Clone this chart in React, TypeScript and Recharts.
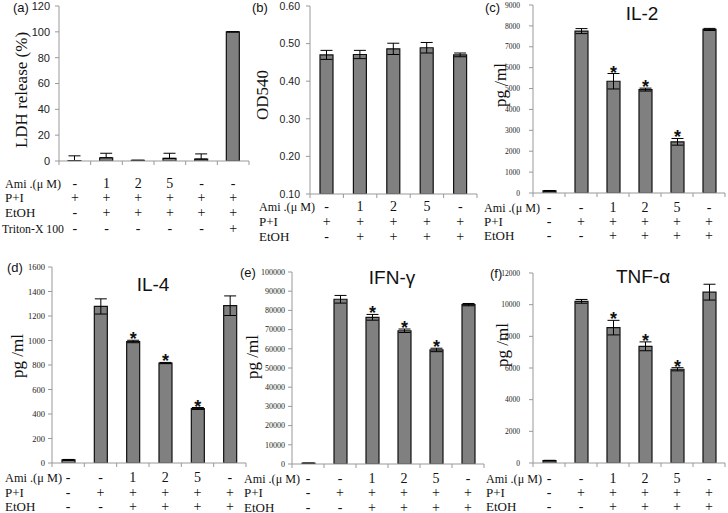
import { Bar, BarChart, ErrorBar, LabelList, XAxis, YAxis } from "recharts";

// row markers under each panel
const amiA = ["-", "1", "2", "5", "-", "-"];
const piA = ["+", "+", "+", "+", "+", "+"];
const etohA = ["-", "+", "+", "+", "+", "+"];
const tritonA = ["-", "-", "-", "-", "-", "+"];

const amiB = ["-", "1", "2", "5", "-"];
const piB = ["+", "+", "+", "+", "+"];
const etohB = ["-", "+", "+", "+", "+"];

const amiC = ["-", "-", "1", "2", "5", "-"];
const piC = ["-", "+", "+", "+", "+", "+"];
const etohC = ["-", "-", "+", "+", "+", "+"];

// (a) LDH release, error bars only upward
const ldhValues = [0.3, 2.5, 0.5, 2, 1.5, 100];
const ldhErrors = [3.7, 3.5, 0, 4, 4, 0];
const ldhTicks = [0, 20, 40, 60, 80, 100, 120];

// (b) OD540
const odValues = [0.47, 0.471, 0.486, 0.489, 0.47];
const odErrors = [0.012, 0.011, 0.015, 0.014, 0.005];
const odTicks = [0.1, 0.2, 0.3, 0.4, 0.5, 0.6];

// (c) IL-2
const il2Values = [100, 7750, 5350, 4950, 2450, 7830];
const il2Errors = [20, 120, 370, 70, 160, 50];
const il2Ticks = [0, 1000, 2000, 3000, 4000, 5000, 6000, 7000, 8000, 9000];

// (d) IL-4
const il4Values = [25, 1278, 992, 816, 445, 1284];
const il4Errors = [4, 62, 10, 5, 8, 80];
const il4Ticks = [0, 200, 400, 600, 800, 1000, 1200, 1400, 1600];

// (e) IFN-γ
const ifnValues = [400, 85800, 76400, 69400, 59400, 83000];
const ifnErrors = [100, 2000, 1500, 900, 900, 600];
const ifnTicks = [0, 10000, 20000, 30000, 40000, 50000, 60000, 70000, 80000, 90000, 100000];

// (f) TNF-α
const tnfValues = [150, 10210, 8550, 7370, 5920, 10790];
const tnfErrors = [20, 120, 460, 280, 100, 500];
const tnfTicks = [0, 2000, 4000, 6000, 8000, 10000, 12000];

const starsC = [false, false, true, true, true, false];

const serif = "'Times New Roman', 'Liberation Serif', serif";
const sans = "Arial, 'Liberation Sans', sans-serif";

type Spec = {
  left: number;
  top: number;
  width: number;
  height: number;
  margin: { top: number; right: number; left: number; bottom: number };
  yWidth: number;
  xHeight: number;
  values: number[];
  errors: number[];
  upOnly?: boolean;
  stars?: boolean[];
  ticks: number[];
  domain: [number, number];
  tickFont: string;
  tickFontSize: number;
  tickSize: number;
  tickMargin: number;
  fmt?: (v: number) => string;
  rows: string[][];
  rowOffsets: number[];
};

function Panel({ s }: { s: Spec }) {
  const data = s.values.map((v, i) => ({
    key: String(i),
    value: v,
    err: s.upOnly ? [0, s.errors[i]] : s.errors[i],
    star: s.stars ? s.stars[i] : false,
    errRaw: s.errors[i],
  }));
  const plotW = s.width - s.margin.left - s.margin.right - s.yWidth;
  const bw = plotW / s.values.length;

  const renderTick = (p: any) => {
    const i = Number(p.payload.value);
    return (
      <g>
        {i === 0 && <line x1={p.x - bw / 2} x2={p.x - bw / 2} y1={p.y} y2={p.y + 4} stroke="#999" />}
        <line x1={p.x + bw / 2} x2={p.x + bw / 2} y1={p.y} y2={p.y + 4} stroke="#999" />
        {s.rows.map((row, r) => (
          <text
            key={r}
            x={p.x}
            y={p.y + s.rowOffsets[r]}
            textAnchor="middle"
            fontFamily={serif}
            fontSize={14}
            fill="#111"
          >
            {row[i]}
          </text>
        ))}
      </g>
    );
  };

  const renderStar = (p: any) => {
    const d = data[p.index];
    if (!d || !d.star) return null;
    const errPx = (d.errRaw * p.height) / d.value;
    return (
      <text
        x={p.x + p.width / 2}
        y={p.y - errPx + 5}
        textAnchor="middle"
        fontFamily={sans}
        fontWeight="bold"
        fontSize={18}
        fill="#111"
      >
        *
      </text>
    );
  };

  return (
    <div style={{ position: "absolute", left: s.left, top: s.top }}>
      <BarChart width={s.width} height={s.height} data={data} margin={s.margin} barSize={13}>
        <XAxis
          dataKey="key"
          interval={0}
          height={s.xHeight}
          tickLine={false}
          tickSize={0}
          tickMargin={0}
          stroke="#999"
          tick={renderTick}
        />
        <YAxis
          width={s.yWidth}
          domain={s.domain}
          ticks={s.ticks}
          interval={0}
          allowDataOverflow
          stroke="#999"
          tickSize={s.tickSize}
          tickMargin={s.tickMargin}
          tickFormatter={s.fmt}
          tick={{ fill: "#222", fontFamily: s.tickFont, fontSize: s.tickFontSize }}
        />
        <Bar dataKey="value" fill="#808080" stroke="#111" strokeWidth={1.2} isAnimationActive={false}>
          <ErrorBar dataKey="err" width={6} stroke="#000" strokeWidth={1} direction="y" isAnimationActive={false} />
          <LabelList dataKey="value" content={renderStar} />
        </Bar>
      </BarChart>
    </div>
  );
}

const specs: Spec[] = [
  {
    left: 0, top: 0, width: 252, height: 250,
    margin: { top: 6, right: 3, left: 0, bottom: 0 }, yWidth: 59, xHeight: 89,
    values: ldhValues, errors: ldhErrors, upOnly: true, ticks: ldhTicks, domain: [0, 120],
    tickFont: sans, tickFontSize: 11, tickSize: 4, tickMargin: 5,
    rows: [amiA, piA, etohA, tritonA], rowOffsets: [26.5, 40.5, 55.5, 71.5],
  },
  {
    left: 240, top: 0, width: 240, height: 250,
    margin: { top: 6, right: 3, left: 0, bottom: 0 }, yWidth: 70, xHeight: 56,
    values: odValues, errors: odErrors, ticks: odTicks, domain: [0.1, 0.6],
    tickFont: sans, tickFontSize: 10.5, tickSize: 4, tickMargin: 6, fmt: (v) => v.toFixed(2),
    rows: [amiB, piB, etohB], rowOffsets: [16.5, 31.5, 46.5],
  },
  {
    left: 480, top: 0, width: 248, height: 250,
    margin: { top: 5, right: 3, left: 0, bottom: 0 }, yWidth: 53, xHeight: 57,
    values: il2Values, errors: il2Errors, stars: starsC, ticks: il2Ticks, domain: [0, 9000],
    tickFont: serif, tickFontSize: 7.5, tickSize: 4, tickMargin: 9,
    rows: [amiC, piC, etohC], rowOffsets: [19, 33, 47],
  },
  {
    left: 0, top: 255, width: 250, height: 258,
    margin: { top: 12, right: 4, left: 0, bottom: 0 }, yWidth: 52, xHeight: 50,
    values: il4Values, errors: il4Errors, stars: starsC, ticks: il4Ticks, domain: [0, 1600],
    tickFont: serif, tickFontSize: 8.5, tickSize: 4, tickMargin: 3,
    rows: [amiC, piC, etohC], rowOffsets: [19, 34, 48],
  },
  {
    left: 240, top: 255, width: 250, height: 258,
    margin: { top: 17, right: 6, left: 0, bottom: 0 }, yWidth: 52, xHeight: 49,
    values: ifnValues, errors: ifnErrors, stars: starsC, ticks: ifnTicks, domain: [0, 100000],
    tickFont: serif, tickFontSize: 8, tickSize: 4, tickMargin: 3,
    rows: [amiC, piC, etohC], rowOffsets: [19, 33, 47.5],
  },
  {
    left: 480, top: 255, width: 248, height: 258,
    margin: { top: 18, right: 3, left: 0, bottom: 0 }, yWidth: 53, xHeight: 50,
    values: tnfValues, errors: tnfErrors, stars: starsC, ticks: tnfTicks, domain: [0, 12000],
    tickFont: serif, tickFontSize: 7.5, tickSize: 4, tickMargin: 9,
    rows: [amiC, piC, etohC], rowOffsets: [20, 34, 48],
  },
];

const rowHeaders = [
  { x: 5, y: 187.5, t: "Ami .(μ M)", w: 56 },
  { x: 5, y: 201.5, t: "P+I" },
  { x: 5, y: 216.5, t: "EtOH" },
  { x: 2, y: 232.5, t: "Triton-X 100", w: 62 },
  { x: 259, y: 210.5, t: "Ami .(μ M)", w: 56 },
  { x: 259, y: 225.5, t: "P+I" },
  { x: 259, y: 240.5, t: "EtOH" },
  { x: 484, y: 212, t: "Ami .(μ M)", w: 56 },
  { x: 484, y: 226, t: "P+I" },
  { x: 484, y: 240, t: "EtOH" },
  { x: 5, y: 482, t: "Ami .(μ M)", w: 57 },
  { x: 5, y: 497, t: "P+I" },
  { x: 5, y: 511, t: "EtOH" },
  { x: 244, y: 483, t: "Ami .(μ M)", w: 56 },
  { x: 244, y: 497, t: "P+I" },
  { x: 244, y: 511.5, t: "EtOH" },
  { x: 486, y: 483, t: "Ami .(μ M)", w: 56 },
  { x: 486, y: 497, t: "P+I" },
  { x: 486, y: 511, t: "EtOH" },
];

const yLabels = [
  { x: 21, y: 90, t: "LDH release (%)" },
  { x: 262, y: 95, t: "OD540" },
  { x: 500, y: 85, t: "pg /ml" },
  { x: 17, y: 356, t: "pg /ml" },
  { x: 252, y: 357, t: "pg /ml" },
  { x: 502, y: 345, t: "pg /ml" },
];

const panelTags = [
  { x: 13, y: 12, t: "(a)" },
  { x: 252, y: 12, t: "(b)" },
  { x: 485, y: 12, t: "(c)" },
  { x: 7, y: 272, t: "(d)" },
  { x: 240, y: 277, t: "(e)" },
  { x: 490, y: 278, t: "(f)" },
];

const titles = [
  { x: 642, y: 20, t: "IL-2" },
  { x: 153, y: 291, t: "IL-4" },
  { x: 392, y: 284, t: "IFN-γ" },
  { x: 643, y: 283, t: "TNF-α" },
];

export default function App() {
  return (
    <div style={{ position: "absolute", left: 0, top: 0, width: 728, height: 513, background: "#fff" }}>
      {specs.map((s, i) => (
        <Panel key={i} s={s} />
      ))}
      <svg width={728} height={513} style={{ position: "absolute", left: 0, top: 0, pointerEvents: "none" }}>
        {rowHeaders.map((r, i) => (
          <text
            key={"r" + i}
            x={r.x}
            y={r.y}
            fontFamily={serif}
            fontSize={13}
            fill="#111"
            textLength={r.w}
            lengthAdjust={r.w ? "spacingAndGlyphs" : undefined}
          >
            {r.t}
          </text>
        ))}
        {yLabels.map((l, i) => (
          <text
            key={"y" + i}
            x={l.x}
            y={l.y}
            transform={`rotate(-90 ${l.x} ${l.y})`}
            textAnchor="middle"
            dominantBaseline="central"
            fontFamily={serif}
            fontSize={17}
            fill="#111"
          >
            {l.t}
          </text>
        ))}
        {panelTags.map((p, i) => (
          <text key={"p" + i} x={p.x} y={p.y} fontFamily={sans} fontSize={13} fill="#111">
            {p.t}
          </text>
        ))}
        {titles.map((t, i) => (
          <text key={"t" + i} x={t.x} y={t.y} textAnchor="middle" fontFamily={sans} fontSize={19} fill="#111">
            {t.t}
          </text>
        ))}
      </svg>
    </div>
  );
}
